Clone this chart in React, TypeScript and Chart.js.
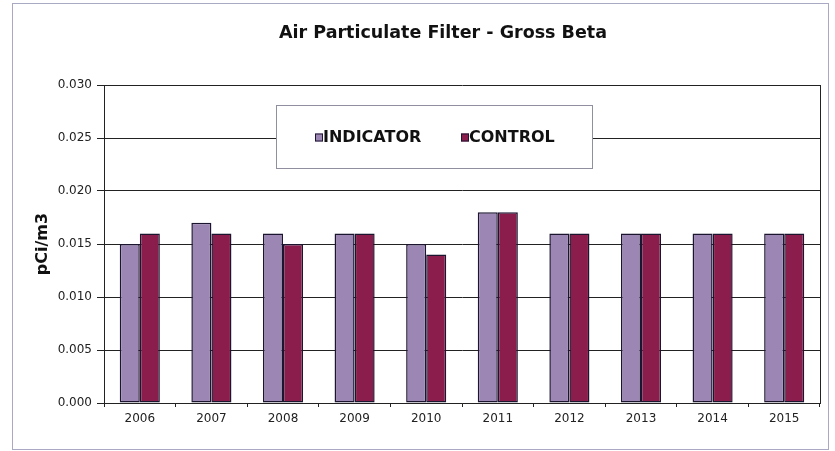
import React, { useEffect, useRef } from "react";
import { Chart, registerables } from "chart.js";

Chart.register(...registerables);

const years = ["2006", "2007", "2008", "2009", "2010", "2011", "2012", "2013", "2014", "2015"];
const indicator = [0.015, 0.017, 0.016, 0.016, 0.015, 0.018, 0.016, 0.016, 0.016, 0.016];
const control = [0.016, 0.016, 0.015, 0.016, 0.014, 0.018, 0.016, 0.016, 0.016, 0.016];
const seriesNames = ["INDICATOR", "CONTROL"];
const titleText = "Air Particulate Filter - Gross Beta";
const yTitle = "pCi/m3";

const INDICATOR_COLOR = "#9c86b3";
const CONTROL_COLOR = "#8a1d4c";
const BAR_BORDER = "#1c1530";
const FONT = "'DejaVu Sans', Verdana, sans-serif";

const framePlugin = {
  id: "frame",
  beforeDraw(chart: any) {
    const { ctx, width, height } = chart;
    ctx.save();
    ctx.fillStyle = "#ffffff";
    ctx.fillRect(0, 0, width, height);
    ctx.strokeStyle = "#a9a9c4";
    ctx.lineWidth = 1;
    ctx.strokeRect(12.5, 3.5, 816, 446);
    ctx.restore();
  },
  beforeDatasetsDraw(chart: any) {
    const { ctx, chartArea } = chart;
    ctx.save();
    ctx.strokeStyle = "#222222";
    ctx.lineWidth = 1;
    ctx.beginPath();
    ctx.moveTo(Math.round(chartArea.right) + 0.5, chartArea.top);
    ctx.lineTo(Math.round(chartArea.right) + 0.5, chartArea.bottom);
    ctx.stroke();
    ctx.restore();
  },
  afterDraw(chart: any) {
    const { ctx, chartArea } = chart;
    ctx.save();
    ctx.font = `bold 17.5px ${FONT}`;
    ctx.fillStyle = "#111111";
    ctx.textAlign = "center";
    ctx.textBaseline = "middle";
    ctx.fillText(titleText, chartArea.left + 339, 33);
    ctx.restore();
  },
};

const legendBoxPlugin = {
  id: "legendBox",
  afterDatasetsDraw(chart: any) {
    const { ctx, chartArea } = chart;
    const x0 = chartArea.left + 172;
    const y0 = chartArea.top + 20;
    const w = 316;
    const h = 63;
    ctx.save();
    ctx.fillStyle = "#ffffff";
    ctx.fillRect(x0, y0, w, h);
    ctx.strokeStyle = "#8f8f9f";
    ctx.lineWidth = 1;
    ctx.strokeRect(Math.round(x0) + 0.5, Math.round(y0) + 0.5, w, h);
    const cy = y0 + h / 2 + 1;
    const items = [
      { label: chart.data.datasets[0].label, color: chart.data.datasets[0].backgroundColor, x: x0 + 39 },
      { label: chart.data.datasets[1].label, color: chart.data.datasets[1].backgroundColor, x: x0 + 185 },
    ];
    ctx.font = `bold 16px ${FONT}`;
    ctx.textBaseline = "middle";
    ctx.textAlign = "left";
    for (const it of items) {
      ctx.fillStyle = it.color;
      ctx.fillRect(it.x, cy - 4, 8, 8);
      ctx.strokeStyle = BAR_BORDER;
      ctx.strokeRect(it.x + 0.5, cy - 4 + 0.5, 7, 7);
      ctx.fillStyle = "#111111";
      ctx.fillText(it.label, it.x + 8, cy);
    }
    ctx.restore();
  },
};

export default function App() {
  const ref = useRef<HTMLCanvasElement | null>(null);

  useEffect(() => {
    document.body.style.margin = "0";
    const canvas = ref.current;
    if (!canvas) return;
    const chart = new Chart(canvas, {
      type: "bar",
      data: {
        labels: years,
        datasets: [
          {
            label: seriesNames[0],
            data: indicator,
            backgroundColor: INDICATOR_COLOR,
            borderColor: BAR_BORDER,
            borderWidth: 1.5,
            borderSkipped: false,
          },
          {
            label: seriesNames[1],
            data: control,
            backgroundColor: CONTROL_COLOR,
            borderColor: BAR_BORDER,
            borderWidth: 1.5,
            borderSkipped: false,
          },
        ],
      },
      options: {
        responsive: false,
        animation: false,
        events: [],
        layout: { padding: { left: 0, right: 15, top: 85, bottom: 0 } },
        datasets: {
          bar: { categoryPercentage: 0.56, barPercentage: 1.0 },
        },
        plugins: {
          legend: { display: false },
          tooltip: { enabled: false },
          title: { display: false },
        },
        scales: {
          x: {
            grid: {
              offset: true,
              drawOnChartArea: false,
              drawTicks: true,
              tickLength: 4,
              color: "#222222",
            },
            border: { display: true, color: "#222222" },
            ticks: {
              color: "#222222",
              font: { family: FONT, size: 12 },
              padding: 5,
              maxRotation: 0,
            },
            afterFit(scale: any) {
              scale.height = 48;
            },
          },
          y: {
            min: 0,
            max: 0.03,
            grid: {
              color: "#222222",
              tickLength: 7,
              drawTicks: true,
            },
            border: { display: true, color: "#222222" },
            ticks: {
              stepSize: 0.005,
              color: "#222222",
              font: { family: FONT, size: 12 },
              padding: 5,
              callback: (v: any) => Number(v).toFixed(3),
            },
            title: {
              display: true,
              text: yTitle,
              color: "#111111",
              font: { family: FONT, size: 16, weight: "bold" },
              padding: { top: 33, bottom: 0 },
            },
            afterFit(scale: any) {
              scale.width = 104;
            },
          },
        },
      },
      plugins: [framePlugin, legendBoxPlugin],
    });
    return () => chart.destroy();
  }, []);

  return <canvas ref={ref} width={835} height={451} style={{ display: "block" }} />;
}
